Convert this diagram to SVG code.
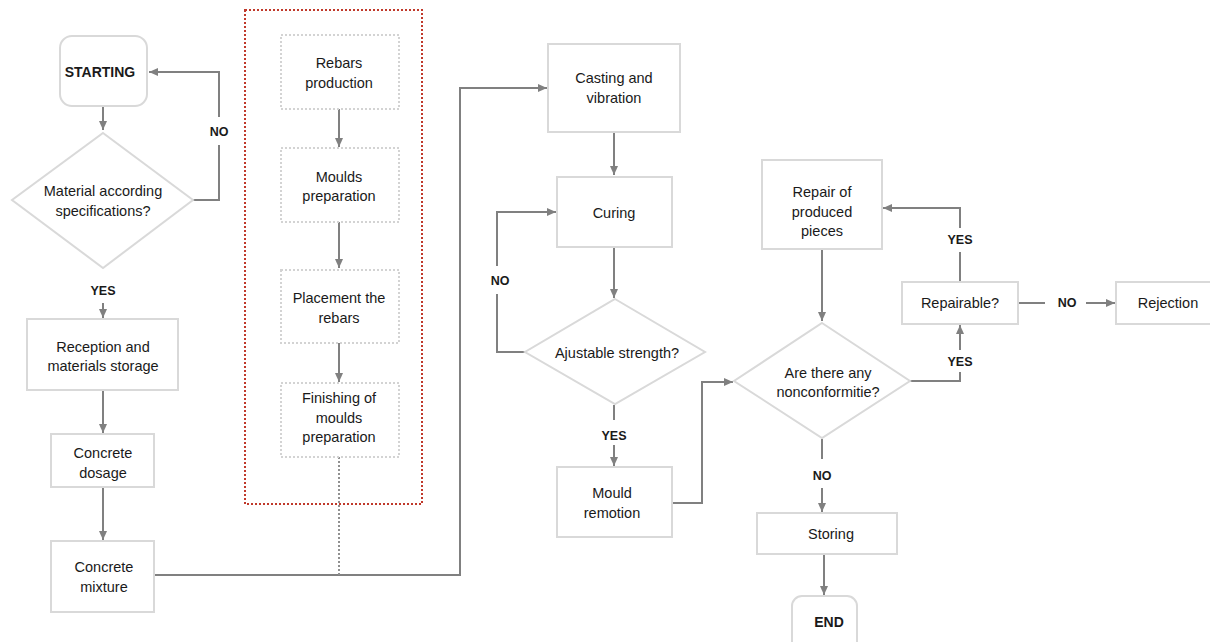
<svg xmlns="http://www.w3.org/2000/svg" width="1210" height="642" viewBox="0 0 1210 642">
<defs>
<marker id="ah" markerUnits="userSpaceOnUse" markerWidth="10" markerHeight="10" viewBox="0 0 10 10" refX="9" refY="5" orient="auto">
<path d="M0,1 L9,5 L0,9 z" fill="#808080"/>
</marker>
<style>
.box{fill:#fff;stroke:#d9d9d9;stroke-width:2}
.dbox{fill:#fff;stroke:#d3d3d3;stroke-width:2;stroke-dasharray:2 2}
.grp{fill:none;stroke:#c0392b;stroke-width:2;stroke-dasharray:2 2}
.c{fill:none;stroke:#808080;stroke-width:2}
.ca{fill:none;stroke:#808080;stroke-width:2;marker-end:url(#ah)}
.dot{fill:none;stroke:#909090;stroke-width:2;stroke-dasharray:2 2}
text{font-family:"Liberation Sans",Arial,sans-serif;fill:#1a1a1a;text-anchor:middle}
.t{font-size:14.5px}
.b{font-size:14px;font-weight:bold}
.l{font-size:12.5px;font-weight:bold}
</style>
</defs>
<rect width="1210" height="642" fill="#fff"/>
<rect class="grp" x="245" y="10" width="177" height="494"/>
<g id="connectors">
<path class="ca" d="M103,106 V130"/>
<path class="c" d="M193,200 H219 V145"/>
<path class="ca" d="M219,117 V72 H149"/>
<path class="ca" d="M103,303 V318"/>
<path class="ca" d="M103,390 V433"/>
<path class="ca" d="M103,487 V540"/>
<path class="ca" d="M154,575 H460 V88 H547"/>
<path class="ca" d="M339,109 V147"/>
<path class="ca" d="M339,222 V268"/>
<path class="ca" d="M339,343 V382"/>
<path class="dot" d="M339,457 V577"/>
<path class="ca" d="M614,132 V175"/>
<path class="ca" d="M614,247 V298"/>
<path class="c" d="M525,352 H497 V294"/>
<path class="ca" d="M497,266 V212 H556"/>
<path class="c" d="M614,405 V420"/>
<path class="ca" d="M614,445 V466"/>
<path class="ca" d="M672,503 H702 V382 H733"/>
<path class="ca" d="M822,249 V321"/>
<path class="c" d="M910,381 H960 V372"/>
<path class="ca" d="M960,350 V325"/>
<path class="c" d="M960,282 V252"/>
<path class="ca" d="M960,228 V208 H883"/>
<path class="c" d="M1018,303 H1045"/>
<path class="ca" d="M1086,303 H1115"/>
<path class="c" d="M822,439 V459"/>
<path class="ca" d="M822,488 V512"/>
<path class="ca" d="M824,554 V595"/>
</g>
<g id="labels">
<text class="l" x="219" y="136">NO</text>
<text class="l" x="103" y="295">YES</text>
<text class="l" x="500" y="285">NO</text>
<text class="l" x="614" y="440">YES</text>
<text class="l" x="960" y="244">YES</text>
<text class="l" x="960" y="366">YES</text>
<text class="l" x="1067" y="307">NO</text>
<text class="l" x="822" y="480">NO</text>
</g>
<g id="starting"><rect class="box" x="60" y="36" width="87" height="70" rx="12"/><text class="b" x="100" y="77">STARTING</text></g>
<g id="material"><polygon class="box" points="103,133 193,200 103,268 12,200"/><text class="t" x="103" y="196">Material according</text><text class="t" x="103" y="216">specifications?</text></g>
<g id="reception"><rect class="box" x="27" y="319" width="151" height="71"/><text class="t" x="103" y="352">Reception and</text><text class="t" x="103" y="371">materials storage</text></g>
<g id="dosage"><rect class="box" x="51" y="434" width="103" height="53"/><text class="t" x="103" y="458">Concrete</text><text class="t" x="103" y="478">dosage</text></g>
<g id="mixture"><rect class="box" x="51" y="541" width="103" height="71"/><text class="t" x="104" y="572">Concrete</text><text class="t" x="104" y="592">mixture</text></g>
<g id="rebars"><rect class="dbox" x="281" y="35" width="118" height="74"/><text class="t" x="339" y="68">Rebars</text><text class="t" x="339" y="88">production</text></g>
<g id="moulds"><rect class="dbox" x="281" y="148" width="118" height="74"/><text class="t" x="339" y="182">Moulds</text><text class="t" x="339" y="201">preparation</text></g>
<g id="placement"><rect class="dbox" x="281" y="270" width="118" height="73"/><text class="t" x="339" y="303">Placement the</text><text class="t" x="339" y="323">rebars</text></g>
<g id="finishing"><rect class="dbox" x="281" y="383" width="118" height="74"/><text class="t" x="339" y="403">Finishing of</text><text class="t" x="339" y="423">moulds</text><text class="t" x="339" y="442">preparation</text></g>
<g id="casting"><rect class="box" x="548" y="44" width="132" height="88"/><text class="t" x="614" y="83">Casting and</text><text class="t" x="614" y="103">vibration</text></g>
<g id="curing"><rect class="box" x="557" y="177" width="115" height="70"/><text class="t" x="614" y="218">Curing</text></g>
<g id="ajustable"><polygon class="box" points="615,299 705,352 615,404 525,352"/><text class="t" x="617" y="358">Ajustable strength?</text></g>
<g id="remotion"><rect class="box" x="557" y="467" width="115" height="70"/><text class="t" x="612" y="498">Mould</text><text class="t" x="612" y="518">remotion</text></g>
<g id="nonconf"><polygon class="box" points="822,323 910,381 822,438 734,381"/><text class="t" x="828" y="378">Are there any</text><text class="t" x="828" y="397">nonconformitie?</text></g>
<g id="repair"><rect class="box" x="762" y="160" width="120" height="89"/><text class="t" x="822" y="197">Repair of</text><text class="t" x="822" y="217">produced</text><text class="t" x="822" y="236">pieces</text></g>
<g id="repairable"><rect class="box" x="902" y="282" width="116" height="42"/><text class="t" x="960" y="308">Repairable?</text></g>
<g id="rejection"><rect class="box" x="1116" y="282" width="100" height="42"/><text class="t" x="1168" y="308">Rejection</text></g>
<g id="storing"><rect class="box" x="757" y="513" width="140" height="41"/><text class="t" x="831" y="539">Storing</text></g>
<g id="end"><rect class="box" x="792" y="596" width="65" height="56" rx="10"/><text class="b" x="829" y="627">END</text></g>
</svg>
